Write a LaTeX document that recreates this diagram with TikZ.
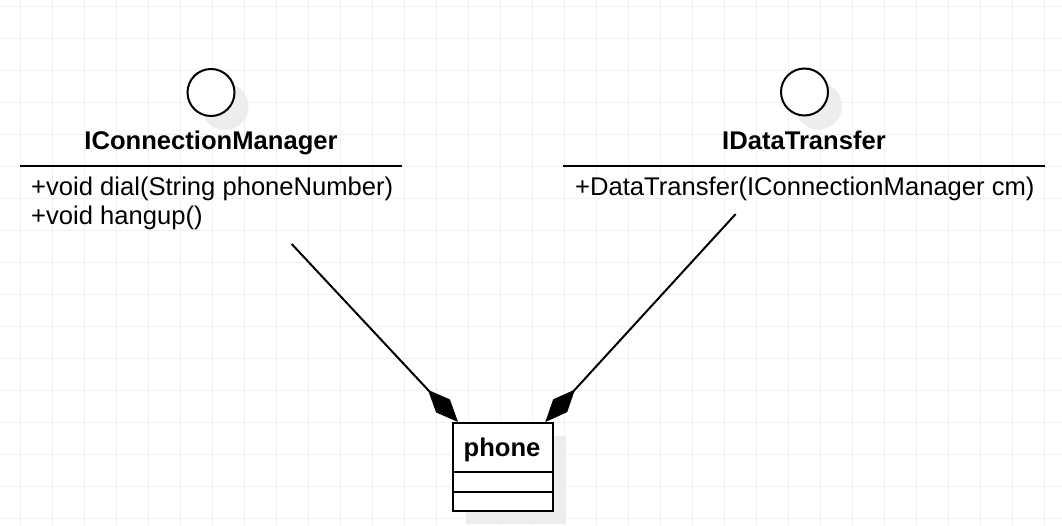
\documentclass[tikz,border=0pt]{standalone}
\usepackage{fontspec}
\setmainfont{Liberation Sans}
\usetikzlibrary{arrows.meta}
\definecolor{gridgray}{HTML}{F1F1F1}
\definecolor{shadegray}{HTML}{EDEDED}
\begin{document}
\begin{tikzpicture}[x=1pt,y=-1pt,
  txt/.style={font=\fontsize{25.6}{30}\selectfont,inner sep=0pt},
  iname/.style={txt,font=\fontsize{25.6}{30}\selectfont\bfseries,anchor=base},
  meth/.style={txt,anchor=base west},
  ball/.style={circle,draw,line width=2pt,fill=white,minimum size=47,inner sep=0pt},
  compo/.style={line width=2pt,-{Diamond[length=44pt,width=19pt]}}]
\def\ballshade{circle [radius=23.5]}
\useasboundingbox (0,0) rectangle (1062,526);
\fill[white] (0,0) rectangle (1062,526);
\foreach \x in {20.7,52.7,...,1062} \draw[gridgray,line width=1pt] (\x,0) -- (\x,526);
\foreach \y in {6.3,38.3,...,526} \draw[gridgray,line width=1pt] (0,\y) -- (1062,\y);
% IConnectionManager
\fill[shadegray] (225,106.5) \ballshade;
\node[ball] (cmBall) at (211,92.5) {};
\node[iname] (cmName) at (211,150) {IConnectionManager};
\draw[line width=2.4pt] (20,166) -- (402,166);
\node[meth] (cmDial) at (31,195.5) {+void dial(String phoneNumber)};
\node[meth] (cmHang) at (31,225) {+void hangup()};
\coordinate (cmFoot) at (291.7,244);
% IDataTransfer
\fill[shadegray] (818.5,106) \ballshade;
\node[ball] (dtBall) at (804.5,92) {};
\node[iname] (dtName) at (804,150) {IDataTransfer};
\draw[line width=2.4pt] (563,166) -- (1045,166);
\node[meth] (dtCtor) at (575,196) {+DataTransfer(IConnectionManager cm)};
\coordinate (dtFoot) at (735.7,214);
% phone
\fill[shadegray] (466,436) rectangle (566,524);
\node[draw,fill=white,line width=2pt,minimum width=100,minimum height=88,
  inner sep=0pt,anchor=north west] (phone) at (452,422) {};
\node[iname] (phoneName) at (502,456) {phone};
\draw[line width=2pt] (452,472) -- (552,472);
\draw[line width=2pt] (452,492) -- (552,492);
\coordinate (phoneL) at ([xshift=6pt]phone.north west);
\coordinate (phoneR) at ([xshift=-8.7pt]phone.north east);
\draw[compo] (cmFoot) -- (phoneL);
\draw[compo] (dtFoot) -- (phoneR);
\end{tikzpicture}
\end{document}
